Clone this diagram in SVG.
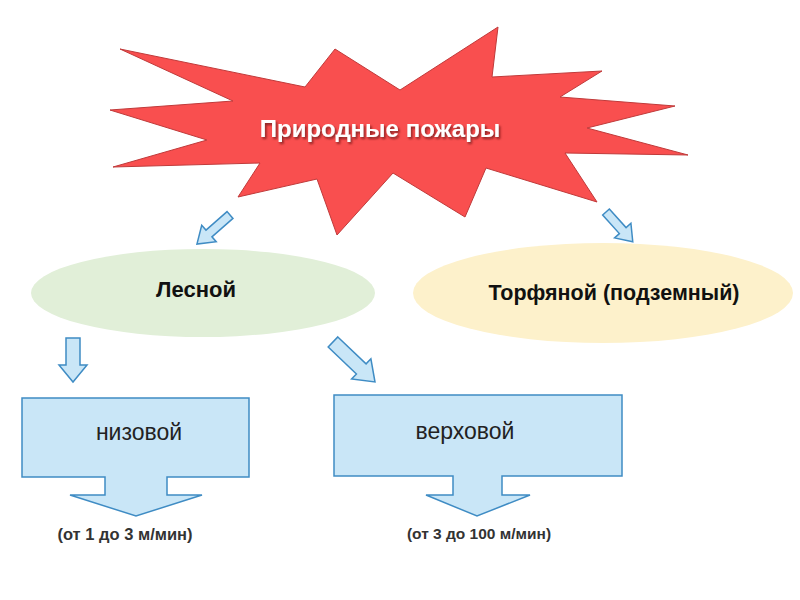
<svg xmlns="http://www.w3.org/2000/svg" width="800" height="600" viewBox="0 0 800 600">
<defs>
<style>
.arrow{fill:#c9e6f7;stroke:#3f8cc4;stroke-width:1.5;stroke-linejoin:miter}
.box{fill:#c9e6f7;stroke:#3f8cc4;stroke-width:1.5}
.lbl{font-family:"Liberation Sans",Arial,sans-serif;font-weight:bold;fill:#111;text-anchor:middle}
.reg{font-family:"Liberation Sans",Arial,sans-serif;fill:#222;text-anchor:middle}
.note{font-family:"Liberation Sans",Arial,sans-serif;font-weight:bold;fill:#333;text-anchor:middle}
</style>
<filter id="sh" x="-10%" y="-30%" width="120%" height="160%">
<feDropShadow dx="1.5" dy="2" stdDeviation="1.2" flood-color="#5a1010" flood-opacity="0.7"/>
</filter>
</defs>
<rect width="800" height="600" fill="#ffffff"/>
<g id="fires">
<polygon points="120,49 305,87 335,49 400,90 498,27 492,77 602,71 560,97 675,106 587,128 688,155 565,153 597,202 486,168 465,217 393,173 337,235 317,179 238,197 260,163 113,167 207,140 110,110 233,101" fill="#f94f4f" stroke="#c03a3a" stroke-width="1"/>
<text x="380" y="137" class="lbl" font-size="24" style="fill:#ffffff" filter="url(#sh)">Природные пожары</text>
</g>
<g id="connectors">
<path class="arrow" transform="translate(230,215) rotate(138.7)" d="M0,-4.5 L28,-4.5 L28,-11 L44,0 L28,11 L28,4.5 L0,4.5 Z"/>
<path class="arrow" transform="translate(606,212) rotate(48)" d="M0,-4.5 L25,-4.5 L25,-11 L40,0 L25,11 L25,4.5 L0,4.5 Z"/>
<path class="arrow" transform="translate(73,338) rotate(90)" d="M0,-7 L27,-7 L27,-14 L44,0 L27,14 L27,7 L0,7 Z"/>
<path class="arrow" transform="translate(333,342) rotate(43.6)" d="M0,-7 L39,-7 L39,-14 L58,0 L39,14 L39,7 L0,7 Z"/>
</g>
<g id="forest">
<ellipse cx="203" cy="293" rx="172" ry="44" fill="#e1efd8"/>
<text x="196" y="297" class="lbl" font-size="22">Лесной</text>
</g>
<g id="peat">
<ellipse cx="603" cy="293" rx="190" ry="50" fill="#fdf1cb"/>
<text x="614" y="300" class="lbl" font-size="21.5">Торфяной (подземный)</text>
</g>
<g id="ground">
<path class="box" d="M22,398 H249 V477 H167 V495 H202 L136,516 L70,495 H105 V477 H22 Z"/>
<text x="139" y="440" class="reg" font-size="23">низовой</text>
<text x="125" y="540" class="note" font-size="16.5">(от 1 до 3 м/мин)</text>
</g>
<g id="crown">
<path class="box" d="M334,395 H622 V476 H502 V495 H530 L477,516 L426,495 H453 V476 H334 Z"/>
<text x="465" y="439" class="reg" font-size="23">верховой</text>
<text x="479" y="539" class="note" font-size="15.5">(от 3 до 100 м/мин)</text>
</g>
</svg>
